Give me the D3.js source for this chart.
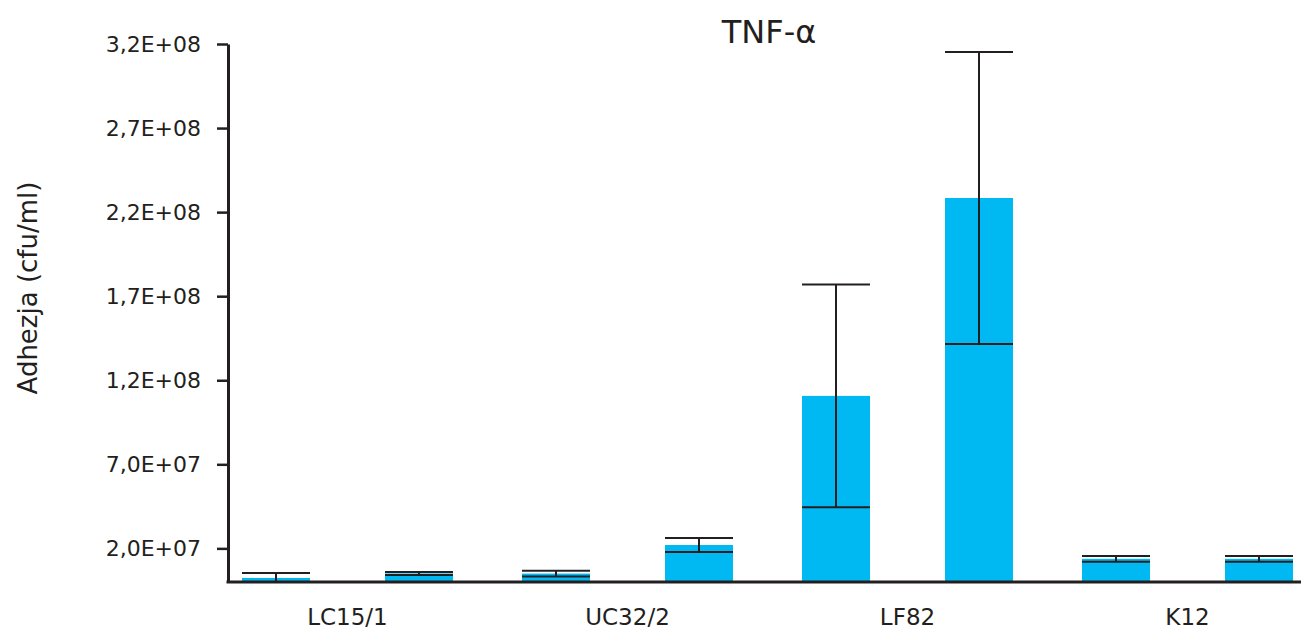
<!DOCTYPE html>
<html>
<head>
<meta charset="utf-8">
<script src="https://cdn.jsdelivr.net/npm/d3@7"></script>
<style>
  body { margin: 0; background: #fff; }
  text { font-family: "DejaVu Sans", sans-serif; fill: #231f20; }
</style>
</head>
<body>
<div id="chart"></div>
<script>
// data
var categories = ["LC15/1", "UC32/2", "LF82", "K12"];
var seriesNames = ["s1", "s2"];
var means1 = [2.4e6, 5.0e6, 1.107e8, 1.38e7];
var errs1  = [3.0e6, 1.7e6, 6.63e7, 1.7e6];
var means2 = [5.1e6, 2.2e7, 2.284e8, 1.38e7];
var errs2  = [0.9e6, 4.2e6, 8.69e7, 1.7e6];
var yTicks = [2e7, 7e7, 1.2e8, 1.7e8, 2.2e8, 2.7e8, 3.2e8];

var width = 1301,
  height = 632;

var svg = d3.select("#chart").append("svg")
  .attr("width", width)
  .attr("height", height);

// build rows for the bars
var rows = [];
categories.forEach(function(c, i) {
  rows.push({cat: c, series: "s1", mean: means1[i], err: errs1[i]});
  rows.push({cat: c, series: "s2", mean: means2[i], err: errs2[i]});
});

var x = d3.scalePoint()
  .domain(categories)
  .range([347.5, 1187.5]);

var xInner = d3.scalePoint()
  .domain(seriesNames)
  .range([-71.5, 71.5]);

var barW = 68;

var y = d3.scaleLinear()
  .domain([0, 3.2e8])
  .range([582, 44]);

// "3,2E+08" style labels
function fmt(v) {
  var s = d3.format(".1e")(v);      // e.g. 3.2e+8
  var parts = s.split("e");
  var mant = parts[0].replace(".", ",");
  var sign = parts[1][0];
  var exp = parts[1].slice(1);
  if (exp.length < 2) exp = "0" + exp;
  return mant + "E" + sign + exp;
}

// bars
svg.append("g")
  .selectAll("rect")
  .data(rows)
  .enter()
  .append("rect")
    .attr("x", function(d) { return x(d.cat) + xInner(d.series) - barW / 2; })
    .attr("y", function(d) { return y(d.mean); })
    .attr("width", barW)
    .attr("height", function(d) { return y(0) - y(d.mean); })
    .attr("fill", "#00b9f2");

// error bars
var eb = svg.append("g")
  .attr("stroke", "#231f20")
  .attr("stroke-width", 2)
  .selectAll("g")
  .data(rows)
  .enter()
  .append("g");

eb.append("line")
  .attr("x1", function(d) { return x(d.cat) + xInner(d.series); })
  .attr("x2", function(d) { return x(d.cat) + xInner(d.series); })
  .attr("y1", function(d) { return y(d.mean + d.err); })
  .attr("y2", function(d) { return y(Math.max(0, d.mean - d.err)); });

eb.append("line")
  .attr("x1", function(d) { return x(d.cat) + xInner(d.series) - barW / 2; })
  .attr("x2", function(d) { return x(d.cat) + xInner(d.series) + barW / 2; })
  .attr("y1", function(d) { return y(d.mean + d.err); })
  .attr("y2", function(d) { return y(d.mean + d.err); });

eb.append("line")
  .attr("x1", function(d) { return x(d.cat) + xInner(d.series) - barW / 2; })
  .attr("x2", function(d) { return x(d.cat) + xInner(d.series) + barW / 2; })
  .attr("y1", function(d) { return y(Math.max(0, d.mean - d.err)); })
  .attr("y2", function(d) { return y(Math.max(0, d.mean - d.err)); });

// y axis
var yAxis = svg.append("g")
  .attr("transform", "translate(228,0)")
  .call(d3.axisLeft(y)
    .tickValues(yTicks)
    .tickFormat(fmt)
    .tickSize(11)
    .tickSizeOuter(0)
    .tickPadding(16));
yAxis.select(".domain").attr("stroke", "#231f20").attr("stroke-width", 3);
yAxis.selectAll(".tick line").attr("stroke", "#231f20").attr("stroke-width", 2.5);
yAxis.selectAll(".tick text")
  .style("font-family", "DejaVu Sans, sans-serif")
  .style("font-size", "22px")
  .attr("fill", "#231f20")
  .attr("dy", "0.34em");

// x axis line
svg.append("line")
  .attr("x1", 226.5)
  .attr("x2", 1301)
  .attr("y1", y(0))
  .attr("y2", y(0))
  .attr("stroke", "#231f20")
  .attr("stroke-width", 3);

// category labels
svg.append("g")
  .selectAll("text")
  .data(categories)
  .enter()
  .append("text")
    .attr("x", function(d) { return x(d); })
    .attr("y", 625)
    .attr("text-anchor", "middle")
    .style("font-size", "23px")
    .text(function(d) { return d; });

// title
svg.append("text")
  .attr("x", 769)
  .attr("y", 43)
  .attr("text-anchor", "middle")
  .style("font-size", "32px")
  .text("TNF-α");

// y axis label
svg.append("text")
  .attr("transform", "translate(37,288) rotate(-90)")
  .attr("text-anchor", "middle")
  .style("font-size", "26px")
  .text("Adhezja (cfu/ml)");
</script>
</body>
</html>
